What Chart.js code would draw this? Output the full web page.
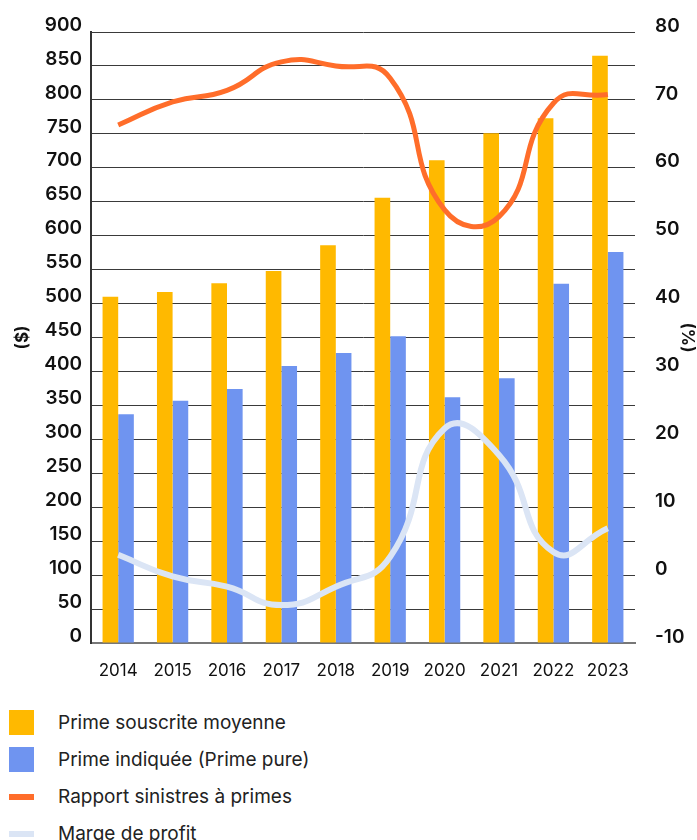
<!DOCTYPE html>
<html>
<head>
<meta charset="utf-8">
<script src="https://cdn.jsdelivr.net/npm/chart.js@4/dist/chart.umd.min.js"></script>
<style>
  body { margin: 0; background: #fff; font-family: Inter, "Noto Sans", sans-serif; }
  #legend { margin: 14px 0 0 9px; }
  .row { display: flex; align-items: center; height: 37px; color: #222; font-size: 19px; }
  .sw { width: 25px; margin-right: 24px; }
</style>
</head>
<body>
<canvas id="comboCanvas" width="697" height="690"></canvas>
<div id="legend"></div>
<script>
const years = ["2014", "2015", "2016", "2017", "2018", "2019", "2020", "2021", "2022", "2023"];

// ($)
const primeSouscrite = [510, 517, 530, 548, 586, 656, 711, 751, 773, 865];
const primeIndiquee = [337, 357, 374, 408, 427, 452, 362, 390, 529, 576];

// (%)
const rapportSinistres = [66.3, 69.7, 71.4, 75.6, 75.0, 73.2, 53.8, 52.8, 69.5, 70.8];
const margeProfit = [3.0, -0.2, -1.7, -4.4, -1.7, 2.7, 21.6, 17.7, 3.4, 6.9];

const seriesNames = [
  "Prime souscrite moyenne",
  "Prime indiquée (Prime pure)",
  "Rapport sinistres à primes",
  "Marge de profit"
];
const seriesColors = ["#ffb900", "#6f94f0", "#ff6d2a", "#dbe5f5"];

const tickFont = { family: "Inter", size: 19, weight: "600" };
const titleFont = { family: "Inter", size: 17, weight: "bold" };

new Chart(document.getElementById("comboCanvas"), {
  type: "bar",
  data: {
    labels: years,
    datasets: [
      {
        label: seriesNames[0],
        data: primeSouscrite,
        backgroundColor: seriesColors[0],
        yAxisID: "y",
        order: 2
      },
      {
        label: seriesNames[1],
        data: primeIndiquee,
        backgroundColor: seriesColors[1],
        yAxisID: "y",
        order: 2
      },
      {
        type: "line",
        label: seriesNames[2],
        data: rapportSinistres,
        borderColor: seriesColors[2],
        borderWidth: 5,
        pointRadius: 0,
        tension: 0.5,
        yAxisID: "y1",
        order: 1
      },
      {
        type: "line",
        label: seriesNames[3],
        data: margeProfit,
        borderColor: seriesColors[3],
        borderWidth: 6,
        pointRadius: 0,
        tension: 0.5,
        yAxisID: "y1",
        order: 1
      }
    ]
  },
  options: {
    responsive: false,
    animation: false,
    layout: { padding: { top: 32, left: 13, right: 0, bottom: 0 } },
    datasets: {
      bar: { categoryPercentage: 0.575, barPercentage: 1 }
    },
    plugins: {
      legend: { display: false },
      tooltip: { enabled: false }
    },
    scales: {
      x: {
        grid: { display: false },
        border: { color: "#777", width: 2 },
        ticks: { color: "#111", font: { family: "Inter", size: 17 }, padding: 10, maxRotation: 0 },
        afterFit: function(scale) { scale.height = 47; }
      },
      y: {
        position: "left",
        min: 0,
        max: 900,
        grid: { color: "#3a3a3a", lineWidth: 1, drawTicks: false },
        border: { color: "#333", width: 2 },
        ticks: { stepSize: 50, color: "#111", font: tickFont, padding: 9, labelOffset: -7 },
        title: { display: true, text: "($)", color: "#111", font: titleFont, padding: 0 },
        afterFit: function(scale) { scale.width = 78; }
      },
      y1: {
        position: "right",
        min: -10,
        max: 80,
        grid: { display: false },
        border: { display: false },
        ticks: { stepSize: 10, color: "#111", font: tickFont, padding: 12, labelOffset: -6 },
        title: { display: true, text: "(%)", color: "#111", font: titleFont, padding: 0 },
        afterFit: function(scale) { scale.width = 62; }
      }
    }
  }
});

// legend built from the same series names and colours
const legend = document.getElementById("legend");
for (let i = 0; i < seriesNames.length; i++) {
  const row = document.createElement("div");
  row.className = "row";
  const sw = document.createElement("div");
  sw.className = "sw";
  sw.style.background = seriesColors[i];
  sw.style.height = i < 2 ? "25px" : "6px";
  const txt = document.createElement("span");
  txt.textContent = seriesNames[i];
  row.appendChild(sw);
  row.appendChild(txt);
  legend.appendChild(row);
}
</script>
</body>
</html>
